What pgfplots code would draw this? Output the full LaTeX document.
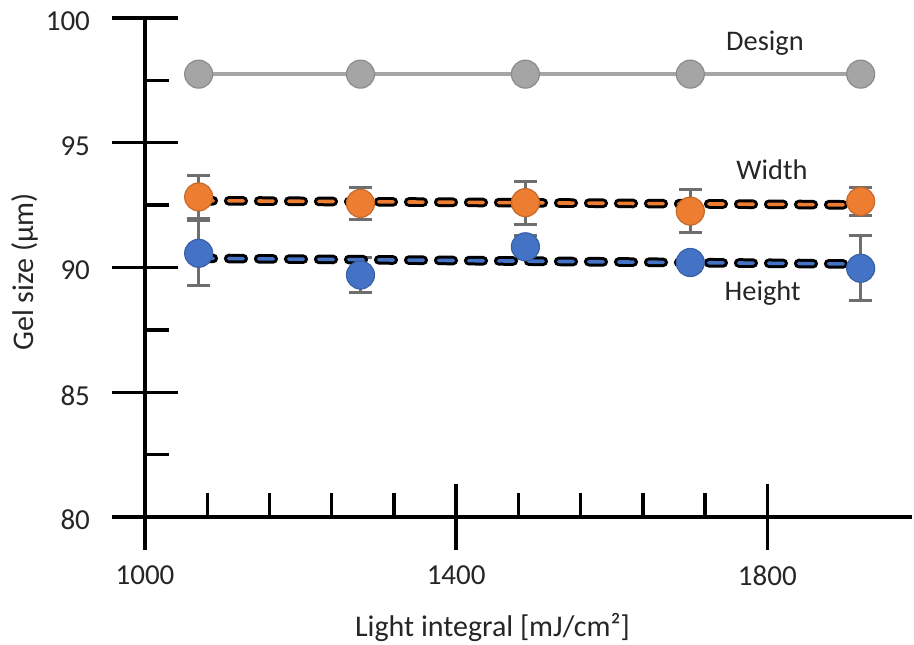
\documentclass[border=0pt]{standalone}
\usepackage{pgfplots}
\usepackage{pgfplotstable}
\usepackage{fontspec}
\setmainfont{Carlito}
\pgfplotsset{compat=1.18}

\definecolor{orangec}{HTML}{ED7D31}
\definecolor{bluec}{HTML}{4472C4}
\definecolor{grayc}{HTML}{A5A5A5}
\definecolor{errgray}{HTML}{6E6E6E}
\definecolor{ticktext}{HTML}{262626}

% x, mean, error
\pgfplotstableread{
x     y      e
1069  92.83  0.85
1277  92.57  0.64
1489  92.60  0.86
1701  92.26  0.85
1920  92.65  0.56
}\widthdata
\pgfplotstableread{
x     y      e
1069  90.57  1.30
1277  89.70  0.70
1489  90.83  0.47
1701  90.20  0.30
1920  89.97  1.30
}\heightdata
\pgfplotstableread{
x     y
1069  97.75
1277  97.75
1489  97.75
1701  97.75
1920  97.75
}\designdata

\begin{document}
\begin{tikzpicture}
\begin{axis}[
    scale only axis,
    width=383.5pt, height=249.5pt,
    xmin=1000, xmax=1986,
    ymin=80, ymax=100,
    axis lines*=left,
    axis line style={line width=1.7pt, black},
    xtick={1000,1400,1800}, minor x tick num=4,
    ytick={80,85,90,95,100}, minor y tick num=1,
    tick align=center,
    major tick length=33pt, minor tick length=12pt,
    tick style={line width=1.7pt, black},
    every minor x tick/.append style={yshift=6pt},
    every minor y tick/.append style={xshift=6pt},
    tick label style={font=\fontsize{14.5}{17}\selectfont, text=ticktext},
    xticklabel style={yshift=-4.5pt},
    yticklabel style={xshift=-7.5pt, yshift=-1.5pt},
    /pgf/number format/assume math mode=true,
    /pgf/number format/1000 sep={},
    xlabel={Light integral [mJ/cm²]},
    ylabel={Gel size (µm)},
    xlabel style={at={(axis description cs:0.453,-0.221)}, anchor=center,
        font=\fontsize{15}{18}\selectfont, text=ticktext},
    ylabel style={at={(axis description cs:-0.1565,0.491)}, anchor=center,
        font=\fontsize{15}{18}\selectfont, text=ticktext},
    clip=false,
]
% design
\addplot[grayc, line width=2pt, mark=*, mark size=7pt,
    mark options={fill=grayc, draw=grayc!85!black, line width=0.6pt}]
    table[x=x, y=y] {\designdata};

% error bars
\addplot[only marks, mark=none, forget plot,
    error bars/.cd, y dir=both, y explicit, error mark=|,
    error bar style={draw=errgray, line width=1.5pt},
    error mark options={draw=errgray, line width=1.5pt, mark size=5.75pt}]
    table[x=x, y=y, y error=e] {\widthdata};
\addplot[only marks, mark=none, forget plot,
    error bars/.cd, y dir=both, y explicit, error mark=|,
    error bar style={draw=errgray, line width=1.5pt},
    error mark options={draw=errgray, line width=1.5pt, mark size=5.75pt}]
    table[x=x, y=y, y error=e] {\heightdata};

% markers
\addplot[only marks, mark=*, mark size=7pt,
    mark options={fill=orangec, draw=orangec!85!black, line width=0.6pt}]
    table[x=x, y=y] {\widthdata};
\addplot[only marks, mark=*, mark size=7pt,
    mark options={fill=bluec, draw=bluec!85!black, line width=0.6pt}]
    table[x=x, y=y] {\heightdata};

% linear trend lines
\addplot[black, line width=4.8pt, line cap=round, dash pattern=on 7.3pt off 7.7pt]
    coordinates {(1069,92.68) (1910,92.51)};
\addplot[orangec, line width=1.8pt, line cap=round, dash pattern=on 7.3pt off 7.7pt]
    coordinates {(1069,92.68) (1910,92.51)};
\addplot[black, line width=4.8pt, line cap=round, dash pattern=on 7.3pt off 7.7pt]
    coordinates {(1069,90.37) (1910,90.14)};
\addplot[bluec, line width=1.8pt, line cap=round, dash pattern=on 7.3pt off 7.7pt]
    coordinates {(1069,90.37) (1910,90.14)};

\node[anchor=base, font=\fontsize{14.2}{17}\selectfont, text=ticktext] at (axis cs:1797,98.69) {Design};
\node[anchor=base, font=\fontsize{14.2}{17}\selectfont, text=ticktext] at (axis cs:1806,93.53) {Width};
\node[anchor=base, font=\fontsize{14.2}{17}\selectfont, text=ticktext] at (axis cs:1794,88.67) {Height};
\end{axis}
\pgfresetboundingbox
\useasboundingbox (-72.5pt,-63.5pt) rectangle (384.5pt,258.5pt);
\end{tikzpicture}
\end{document}
